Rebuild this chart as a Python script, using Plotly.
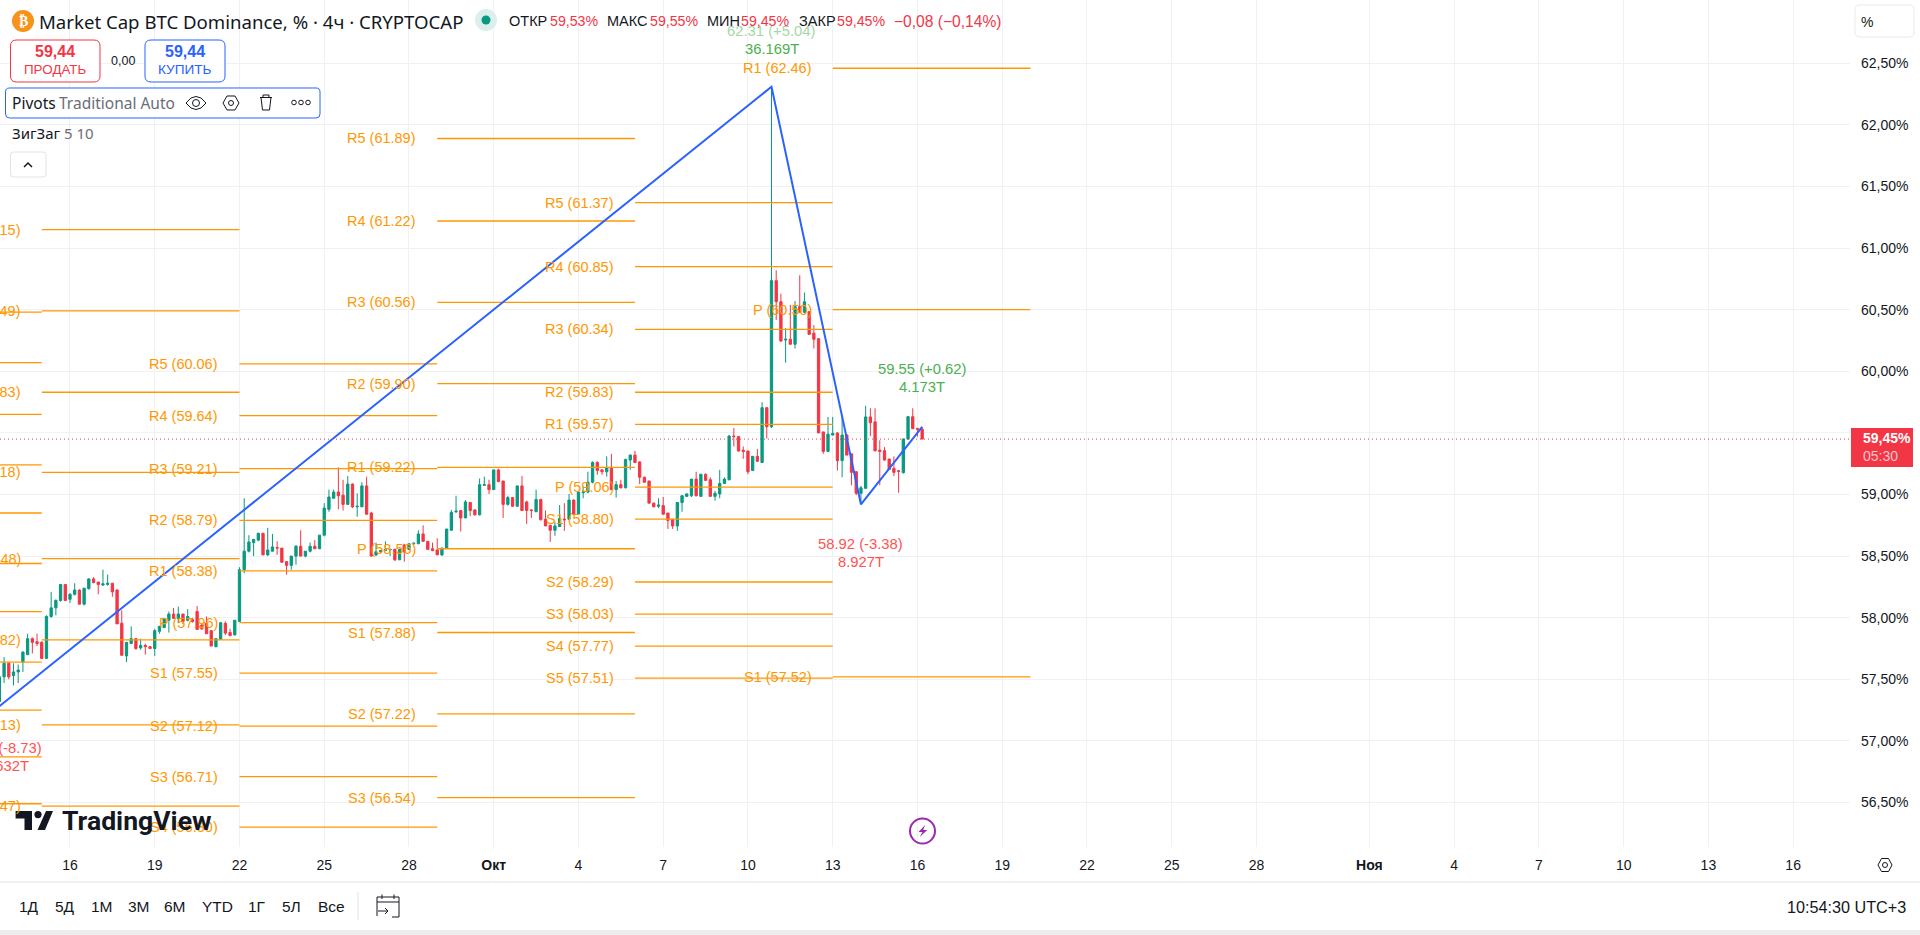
import pandas as pd
import plotly.graph_objects as go

# ---------- data ----------
TIME = pd.date_range("2025-09-13 12:00", "2025-10-16 04:00", freq="4h").strftime("%Y-%m-%d %H:%M").tolist()
OPEN = [57.32,57.52,57.63,57.53,57.56,57.64,57.70,57.83,57.805,57.80,
57.67,58.01,58.08,58.14,58.27,58.15,58.19,58.225,58.11,58.235,
58.315,58.29,58.265,58.27,58.28,58.225,57.955,57.69,57.79,57.83,
57.755,57.775,57.765,57.75,57.89,57.92,57.98,58.03,57.995,58.03,
57.98,57.985,58.05,57.94,57.955,57.895,57.765,57.825,57.955,57.88,
57.86,57.97,58.39,58.54,58.61,58.63,58.685,58.51,58.54,58.57,
58.565,58.455,58.425,58.50,58.58,58.50,58.54,58.58,58.56,58.67,
58.88,58.97,59.02,58.995,58.92,59.085,58.90,58.90,59.07,58.85,
58.51,58.535,58.545,58.55,58.555,58.47,58.59,58.555,58.60,58.60,
58.68,58.62,58.56,58.55,58.51,58.565,58.71,58.86,58.87,58.81,
58.935,58.875,58.835,59.075,59.08,59.04,59.20,59.11,58.92,58.975,
58.905,59.07,58.94,58.875,58.86,58.96,58.80,58.75,58.71,58.74,
58.80,58.80,58.955,58.84,59.015,59.02,59.10,59.26,59.20,59.185,
59.22,59.04,59.08,59.055,59.28,59.32,59.265,59.14,59.11,58.93,
58.905,58.91,58.85,58.80,58.745,58.935,58.985,58.99,59.125,58.985,
59.165,59.12,58.985,59.005,59.09,59.12,59.475,59.47,59.36,59.353,
59.195,59.31,59.26,59.705,59.55,60.736,60.565,60.254,60.26,60.22,
60.525,60.48,60.484,60.31,60.265,59.508,59.35,59.483,59.50,59.275,
59.483,59.33,59.185,59.01,59.05,59.63,59.59,59.36,59.356,59.288,
59.212,59.193,59.177,59.45,59.632,59.537,59.53]
HIGH = [57.55,57.68,57.64,57.63,57.62,57.73,57.87,57.84,57.87,57.81,
58.02,58.21,58.15,58.27,58.27,58.20,58.28,58.23,58.24,58.32,
58.33,58.29,58.39,58.35,58.28,58.23,58.06,57.80,57.93,57.83,
57.83,57.79,57.77,57.91,57.93,58.00,58.05,58.08,58.09,58.03,
58.07,58.00,58.095,57.95,58.01,57.90,57.835,57.96,57.97,57.91,
57.98,58.41,58.97,58.67,58.64,58.69,58.69,58.73,58.68,58.62,
58.565,58.46,58.50,58.59,58.71,58.54,58.61,58.63,58.67,58.93,
59.04,59.04,59.22,59.12,59.15,59.09,59.01,59.10,59.145,58.86,
58.61,58.55,58.62,58.56,58.56,58.56,58.60,58.60,58.61,58.71,
58.75,58.62,58.61,58.645,58.57,58.72,58.875,58.99,58.87,58.955,
58.94,58.88,59.13,59.145,59.12,59.20,59.21,59.11,58.99,58.98,
59.07,59.15,58.95,58.88,59.04,58.965,58.87,58.755,58.78,58.915,
58.93,59.005,58.96,59.02,59.065,59.185,59.27,59.27,59.205,59.31,
59.33,59.11,59.12,59.29,59.325,59.355,59.27,59.145,59.11,58.935,
58.97,58.98,58.85,58.80,58.94,58.995,59.01,59.125,59.185,59.165,
59.17,59.14,59.03,59.20,59.14,59.48,59.54,59.47,59.39,59.355,
59.31,59.37,59.75,59.705,62.31,60.82,60.63,60.35,60.54,60.57,
60.78,60.64,60.49,60.375,60.27,59.51,59.63,59.63,59.505,59.63,
59.49,59.33,59.19,59.07,59.72,59.70,59.70,59.44,59.385,59.29,
59.31,59.20,59.455,59.635,59.70,59.54,59.55]
LOW = [57.30,57.47,57.50,57.45,57.47,57.56,57.70,57.71,57.77,57.67,
57.67,58.00,58.02,58.13,58.14,58.12,58.18,58.11,58.10,58.23,
58.28,58.19,58.26,58.26,58.17,57.95,57.695,57.64,57.79,57.74,
57.74,57.70,57.75,57.69,57.87,57.92,57.88,57.99,57.955,57.95,
57.97,57.96,57.90,57.90,57.87,57.77,57.76,57.82,57.86,57.85,
57.86,57.97,58.36,58.53,58.50,58.62,58.51,58.50,58.54,58.51,
58.45,58.35,58.39,58.43,58.50,58.49,58.53,58.56,58.56,58.66,
58.86,58.97,58.88,58.87,58.92,58.89,58.82,58.90,58.84,58.50,
58.50,58.53,58.54,58.50,58.46,58.47,58.455,58.55,58.59,58.60,
58.62,58.55,58.54,58.51,58.50,58.56,58.71,58.85,58.70,58.81,
58.825,58.83,58.83,59.075,59.005,59.04,59.10,58.81,58.91,58.90,
58.905,58.87,58.76,58.81,58.86,58.79,58.745,58.615,58.665,58.74,
58.705,58.795,58.84,58.84,58.97,59.01,59.09,59.16,59.16,59.145,
59.04,58.975,59.05,59.05,59.20,59.255,59.085,59.095,58.93,58.90,
58.89,58.84,58.72,58.72,58.705,58.86,58.98,58.98,58.985,58.98,
59.11,58.98,58.95,58.97,59.085,59.115,59.39,59.35,59.29,59.165,
59.19,59.265,59.255,59.455,59.54,60.417,60.24,60.07,60.215,60.185,
60.48,60.47,60.30,60.185,59.50,59.33,59.345,59.48,59.195,59.14,
59.32,59.075,58.995,58.92,59.05,59.475,59.35,59.075,59.275,59.20,
59.15,59.015,59.17,59.445,59.53,59.47,59.45]
CLOSE = [57.52,57.63,57.52,57.56,57.575,57.72,57.83,57.80,57.79,57.67,
58.01,58.08,58.14,58.27,58.14,58.19,58.225,58.11,58.24,58.315,
58.285,58.27,58.275,58.28,58.21,57.95,57.695,57.80,57.83,57.75,
57.775,57.765,57.75,57.895,57.93,57.99,58.03,57.995,58.03,57.97,
58.01,57.97,57.905,57.91,57.87,57.77,57.83,57.96,57.875,57.855,
57.98,58.39,58.54,58.615,58.635,58.685,58.51,58.55,58.575,58.565,
58.45,58.425,58.50,58.58,58.50,58.54,58.58,58.56,58.67,58.89,
58.98,59.02,58.99,58.92,59.085,58.90,58.905,59.07,58.84,58.50,
58.535,58.545,58.555,58.555,58.47,58.555,58.535,58.60,58.605,58.68,
58.62,58.555,58.545,58.51,58.565,58.72,58.855,58.865,58.81,58.94,
58.87,58.835,59.08,59.08,59.04,59.20,59.105,58.92,58.975,58.905,
59.07,58.87,58.87,58.87,58.96,58.795,58.745,58.71,58.745,58.805,
58.795,58.955,58.84,59.02,59.02,59.10,59.26,59.195,59.185,59.22,
59.04,59.08,59.055,59.285,59.32,59.26,59.14,59.10,58.93,58.90,
58.915,58.84,58.79,58.745,58.935,58.99,59.005,59.125,58.99,59.165,
59.115,58.985,59.01,59.09,59.125,59.475,59.47,59.353,59.35,59.185,
59.31,59.27,59.705,59.55,60.736,60.565,60.246,60.26,60.22,60.525,
60.48,60.565,60.30,60.26,59.50,59.35,59.49,59.496,59.275,59.483,
59.32,59.18,59.01,59.055,59.63,59.583,59.355,59.35,59.28,59.204,
59.18,59.188,59.45,59.632,59.535,59.53,59.45]

ZZ_TIME = ["2025-09-13 08:00", "2025-10-10 20:00", "2025-10-14 00:00", "2025-10-16 04:00"]
ZZ_VALUE = [57.25, 62.31, 58.92, 59.55]

WEEK_STARTS = ["2025-09-08", "2025-09-15", "2025-09-22", "2025-09-29", "2025-10-06", "2025-10-13", "2025-10-20"]
PIVOTS_W0 = [60.48, 60.07, 59.65, 59.24, 58.85, 58.44, 58.05, 57.64, 57.25, 56.87, 56.49]
PIVOTS_W1 = [("R4", 61.15), ("R3", 60.49), ("R2", 59.83), ("R1", 59.18), ("P", 58.48),
             ("S1", 57.82), ("S2", 57.13), ("S3", 56.47)]
PIVOTS_W2 = [("R5", 60.06), ("R4", 59.64), ("R3", 59.21), ("R2", 58.79), ("R1", 58.38), ("P", 57.96),
             ("S1", 57.55), ("S2", 57.12), ("S3", 56.71), ("S4", 56.30)]
PIVOTS_W3 = [("R5", 61.89), ("R4", 61.22), ("R3", 60.56), ("R2", 59.90), ("R1", 59.22), ("P", 58.56),
             ("S1", 57.88), ("S2", 57.22), ("S3", 56.54)]
PIVOTS_W4 = [("R5", 61.37), ("R4", 60.85), ("R3", 60.34), ("R2", 59.83), ("R1", 59.57), ("P", 59.06),
             ("S1", 58.80), ("S2", 58.29), ("S3", 58.03), ("S4", 57.77), ("S5", 57.51)]
PIVOTS_W5 = [("R1", 62.46), ("P", 60.50), ("S1", 57.52)]

Y_TICKS = [62.5, 62.0, 61.5, 61.0, 60.5, 60.0, 59.5, 59.0, 58.5, 58.0, 57.5, 57.0, 56.5]
Y_LABELS = ["62,50%", "62,00%", "61,50%", "61,00%", "60,50%", "60,00%", "59,50%", "59,00%",
            "58,50%", "58,00%", "57,50%", "57,00%", "56,50%"]
X_TICKS = ["2025-09-16", "2025-09-19", "2025-09-22", "2025-09-25", "2025-09-28", "2025-10-01", "2025-10-04",
           "2025-10-07", "2025-10-10", "2025-10-13", "2025-10-16", "2025-10-19", "2025-10-22", "2025-10-25",
           "2025-10-28", "2025-11-01", "2025-11-04", "2025-11-07", "2025-11-10", "2025-11-13", "2025-11-16"]
X_LABELS = ["16", "19", "22", "25", "28", "<b>Окт</b>", "4", "7", "10", "13", "16", "19", "22", "25", "28",
            "<b>Ноя</b>", "4", "7", "10", "13", "16"]
LAST_PRICE = 59.45

# ---------- style ----------
FONT = "Liberation Sans, Arial, sans-serif"
NOTO = "Noto Sans, " + FONT
INK = "#131722"
GREY = "#6a6d78"
UP = "#089981"
DOWN = "#F23645"
BLUE = "#2962FF"
ORANGE = "#FF9800"
GRID = "#F0F1F4"
PLOT_W, PLOT_H = 1850, 847


def px(x):
    return x / PLOT_W


def py(y):
    return 1 - y / PLOT_H


annotations, shapes = [], []


def text(x, y, s, size=14, color=INK, anchor="left", family=FONT, opacity=1):
    annotations.append(dict(xref="paper", yref="paper", x=px(x), y=py(y), text=s, showarrow=False,
                            xanchor=anchor, yanchor="middle", borderpad=0, opacity=opacity,
                            font=dict(family=family, size=size, color=color)))


def path(points, fill=None, line=None, width=1, close=True):
    d = "M " + " L ".join(f"{px(a):.6f} {py(b):.6f}" for a, b in points) + (" Z" if close else "")
    shapes.append(dict(type="path", xref="paper", yref="paper", path=d, layer="above",
                       fillcolor=fill or "rgba(0,0,0,0)", line=dict(color=line or "rgba(0,0,0,0)", width=width if line else 0)))


def rrect(x0, y0, x1, y1, r, fill="#ffffff", line=None, width=1):
    P = lambda a, b: f"{px(a):.6f} {py(b):.6f}"
    d = (f"M {P(x0 + r, y0)} L {P(x1 - r, y0)} Q {P(x1, y0)} {P(x1, y0 + r)} L {P(x1, y1 - r)} "
         f"Q {P(x1, y1)} {P(x1 - r, y1)} L {P(x0 + r, y1)} Q {P(x0, y1)} {P(x0, y1 - r)} L {P(x0, y0 + r)} "
         f"Q {P(x0, y0)} {P(x0 + r, y0)} Z")
    shapes.append(dict(type="path", xref="paper", yref="paper", path=d, layer="above", fillcolor=fill,
                       line=dict(color=line or "rgba(0,0,0,0)", width=width if line else 0)))


def circle(cx, cy, r, fill="rgba(0,0,0,0)", line=None, width=1):
    shapes.append(dict(type="circle", xref="paper", yref="paper", layer="above",
                       x0=px(cx - r), x1=px(cx + r), y0=py(cy + r), y1=py(cy - r), fillcolor=fill,
                       line=dict(color=line or "rgba(0,0,0,0)", width=width if line else 0)))


# ---------- traces ----------
fig = go.Figure()
pivot_sets = [[("", v) for v in PIVOTS_W0], PIVOTS_W1, PIVOTS_W2, PIVOTS_W3, PIVOTS_W4, PIVOTS_W5]

line_x, line_y = [], []
for start, end, rows in zip(WEEK_STARTS[:-1], WEEK_STARTS[1:], pivot_sets):
    for _, v in rows:
        line_x += [start, end, None]
        line_y += [v, v, None]

fig.add_trace(go.Candlestick(x=TIME, open=OPEN, high=HIGH, low=LOW, close=CLOSE, whiskerwidth=0,
                             increasing=dict(line=dict(color=UP, width=1), fillcolor=UP),
                             decreasing=dict(line=dict(color=DOWN, width=1), fillcolor=DOWN),
                             hoverinfo="skip", showlegend=False))
fig.add_trace(go.Scatter(x=line_x, y=line_y, mode="lines", line=dict(color=ORANGE, width=1.3),
                         hoverinfo="skip", showlegend=False, connectgaps=False))
fig.add_trace(go.Scatter(x=ZZ_TIME, y=ZZ_VALUE, mode="lines", line=dict(color=BLUE, width=2),
                         hoverinfo="skip", showlegend=False))

# pivot labels, right aligned ahead of each level's line
for start, rows in zip(WEEK_STARTS[1:], pivot_sets[1:]):
    for name, v in rows:
        annotations.append(dict(x=start, y=v, xref="x", yref="y", text=f"{name} ({v:.2f})", showarrow=False,
                                xanchor="right", yanchor="middle", xshift=-20, borderpad=0,
                                font=dict(family=FONT, size=14.5, color=ORANGE)))

# zigzag labels
ZZ_LABELS = [(ZZ_TIME[1], ZZ_VALUE[1], "62.31 (+5.04)", "36.169T", "#4CAF50", 56, 38, 0.5),
             (ZZ_TIME[2], ZZ_VALUE[2], "58.92 (-3.38)", "8.927T", "#FF5252", -40, -58, 1),
             (ZZ_TIME[3], ZZ_VALUE[3], "59.55 (+0.62)", "4.173T", "#4CAF50", 58, 40, 1)]
for t, v, a, b, c, s1, s2, op in ZZ_LABELS:
    annotations.append(dict(x=t, y=v, xref="x", yref="y", text=a, showarrow=False, yshift=s1, borderpad=0,
                            opacity=op, font=dict(family=FONT, size=14.8, color=c)))
    annotations.append(dict(x=t, y=v, xref="x", yref="y", text=b, showarrow=False, yshift=s2, borderpad=0,
                            font=dict(family=FONT, size=14.8, color=c)))
text(43, 748, "57.25 (-8.73)", size=14.8, color="#FF5252", anchor="right")
text(30, 766, "5.632T", size=14.8, color="#FF5252", anchor="right")

shapes.append(dict(type="line", xref="paper", yref="y", x0=0, x1=1, y0=LAST_PRICE, y1=LAST_PRICE, layer="above",
                   line=dict(color=DOWN, width=1, dash="1px,3px")))

# ---------- header ----------
circle(23, 21, 11, fill="#F7931A")
text(23, 21, "<b>₿</b>", size=14, color="#ffffff", anchor="center", family="DejaVu Sans")
text(38, 21, "Market Cap BTC Dominance, % · 4ч · CRYPTOCAP", size=18.6, family=NOTO)
circle(486, 20, 11, fill="#DCEFEC")
circle(486, 20, 4.5, fill=UP)
for x, s, c, z in [(508, "ОТКР", INK, 14.5), (549, "59,53%", DOWN, 14.2), (606, "МАКС", INK, 14.5), (649, "59,55%", DOWN, 14.2),
                   (706, "МИН", INK, 14.5), (740, "59,45%", DOWN, 14.2), (798, "ЗАКР", INK, 14.5), (836, "59,45%", DOWN, 14.2),
                   (893, "−0,08 (−0,14%)", DOWN, 15.6)]:
    text(x, 21, s, size=z, color=c)

rrect(10.5, 40, 100, 82, 6, line=DOWN)
text(55, 52, "<b>59,44</b>", size=16, color=DOWN, anchor="center")
text(55, 70, "ПРОДАТЬ", size=13.4, color=DOWN, anchor="center")
text(123, 61, "0,00", size=12.5, anchor="center")
rrect(145, 40, 225, 82, 6, line=BLUE)
text(185, 52, "<b>59,44</b>", size=16, color=BLUE, anchor="center")
text(185, 70, "КУПИТЬ", size=13.6, color=BLUE, anchor="center")

rrect(5.5, 88, 320, 118, 4, line=BLUE)
text(11, 103, "Pivots", size=15.5, family=NOTO)
text(58, 103, "Traditional Auto", size=15.5, color=GREY, family=NOTO)
# eye
path([(186, 103), (191, 98), (196, 96.5), (201, 98), (206, 103), (201, 108), (196, 109.5), (191, 108)], line=INK)
circle(196, 103, 3.5, line=INK)
# settings hexagon
path([(223, 103), (227, 96), (235, 96), (239, 103), (235, 110), (227, 110)], line=INK)
circle(231, 103, 2.5, line=INK)
# trash
path([(260, 97.5), (272, 97.5)], line=INK, close=False)
path([(263, 97.5), (263, 95), (269, 95), (269, 97.5)], line=INK, close=False)
path([(261, 97.5), (262.5, 110), (269.5, 110), (271, 97.5)], line=INK)
# dots
for cx in (294, 301, 308):
    circle(cx, 102.5, 2.3, line=INK)

text(11, 133, "ЗигЗаг <span style='color:#6a6d78'>5 10</span>", size=15, family=NOTO)
rrect(10.5, 152, 46, 177, 3, line="#E0E3EB")
path([(24, 167), (28, 163), (32, 167)], line=INK, width=1.5, close=False)

# ---------- right side ----------
rrect(1855, 5, 1914, 37, 5, line="#E8EAEE")
text(1860, 22, "%", size=14)
shapes.append(dict(type="rect", xref="paper", yref="paper", layer="above", x0=px(1851), x1=px(1913),
                   y0=py(467), y1=py(428), fillcolor=DOWN, line=dict(width=0)))
text(1862, 438, "<b>59,45%</b>", size=14, color="#ffffff")
text(1862, 456, "05:30", size=14, color="#FBC4CA")

# ---------- watermark and bolt ----------
path([(15.6, 811), (32, 811), (32, 830), (24.5, 830), (24.5, 818.5), (15.6, 818.5)], fill="#131722")
circle(38, 814.6, 3.6, fill="#131722")
path([(46, 811), (53, 811), (45, 830), (37.5, 830)], fill="#131722")
text(61, 820, "<b>TradingView</b>", size=26.6, color="#131722", family="Roboto, " + FONT)
circle(922.5, 831, 12.5, line="#9C27B0", width=2)
path([(925.2, 825), (918.5, 832), (922.5, 832), (919.8, 837), (927.2, 830), (923.2, 830)], fill="#9C27B0")

# ---------- bottom toolbar ----------
shapes.append(dict(type="line", xref="paper", yref="paper", x0=0, x1=px(1920), y0=py(882), y1=py(882),
                   layer="above", line=dict(color="#E0E3EB", width=1)))
shapes.append(dict(type="rect", xref="paper", yref="paper", x0=0, x1=px(1920), y0=py(935), y1=py(930),
                   layer="above", fillcolor="#EDEDED", line=dict(width=0)))
for x, s in [(29, "1Д"), (65, "5Д"), (102, "1М"), (139, "3М"), (175, "6М"), (217, "YTD"), (257, "1Г"),
             (291.5, "5Л"), (331, "Все")]:
    text(x, 907, s, size=15.5, anchor="center")
shapes.append(dict(type="line", xref="paper", yref="paper", x0=px(358), x1=px(358), y0=py(892), y1=py(920),
                   layer="above", line=dict(color="#E0E3EB", width=1)))
path([(377, 916), (377, 897), (399, 897), (399, 917), (392, 917)], line=INK, close=False)
path([(377, 902), (399, 902)], line=INK, close=False)
path([(382, 894.5), (382, 899)], line=INK, close=False)
path([(394, 894.5), (394, 899)], line=INK, close=False)
path([(378, 911), (388, 911)], line=INK, close=False)
path([(385, 908), (388, 911), (385, 914)], line=INK, close=False)
text(1907, 907, "10:54:30 UTC+3", size=16.2, anchor="right")
path([(1878, 865), (1881.5, 858.5), (1888.5, 858.5), (1892, 865), (1888.5, 871.5), (1881.5, 871.5)], line=INK)
circle(1885, 865, 2.5, line=INK)

# ---------- layout ----------
fig.update_layout(
    width=1920, height=935, margin=dict(l=0, r=70, t=0, b=88), paper_bgcolor="#ffffff", plot_bgcolor="#ffffff",
    showlegend=False, font=dict(family=FONT, size=14, color=INK), dragmode=False,
    annotations=annotations, shapes=shapes,
    xaxis=dict(type="date", range=["2025-09-13 12:32", "2025-11-18 00:18"], tickvals=X_TICKS, ticktext=X_LABELS,
               tickangle=0, showgrid=True, gridcolor=GRID, gridwidth=1, zeroline=False, showline=False, ticks="",
               ticklabelstandoff=8, rangeslider=dict(visible=False), tickfont=dict(family=FONT, size=14, color=INK)),
    yaxis=dict(side="right", range=[56.139, 63.014], tickvals=Y_TICKS, ticktext=Y_LABELS, showgrid=True,
               gridcolor=GRID, gridwidth=1, zeroline=False, showline=False, ticks="", ticklabelstandoff=10,
               tickfont=dict(family=FONT, size=14, color=INK)),
)

fig.write_html("out.html", config=dict(displayModeBar=False, staticPlot=True),
               post_script="document.body.style.margin='0';document.body.style.overflow='hidden';")
